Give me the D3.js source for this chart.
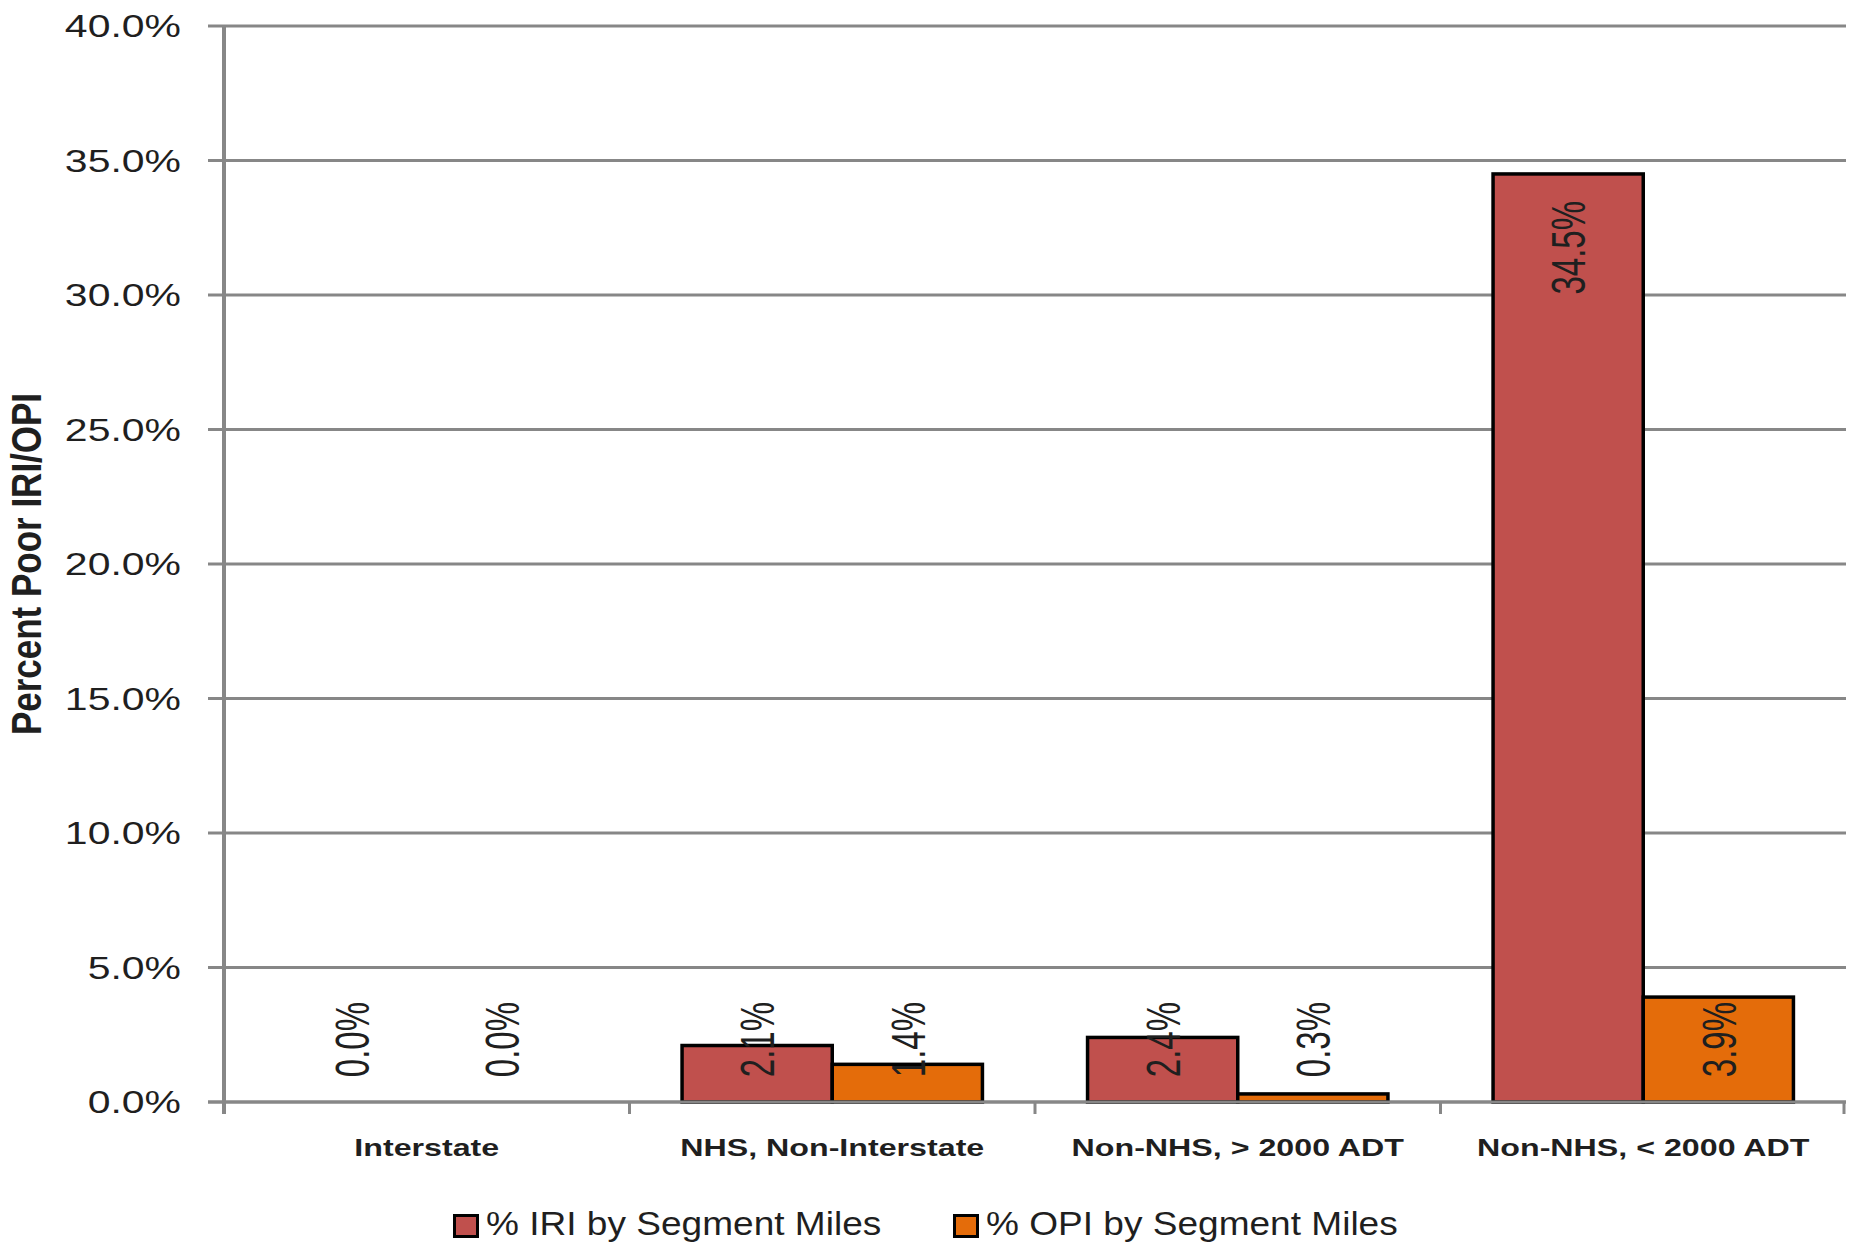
<!DOCTYPE html>
<html>
<head>
<meta charset="utf-8">
<script src="https://cdn.jsdelivr.net/npm/d3@7"></script>
<style>
  html, body { margin: 0; padding: 0; background: #fff; }
  svg { display: block; }
  text { font-family: "Liberation Sans", Arial, sans-serif; fill: #1f1f1f; }
</style>
</head>
<body>
<svg id="chart" width="1853" height="1247"></svg>
<script>
// Road categories and the share of poor-condition segment miles in each
const categories = ["Interstate", "NHS, Non-Interstate", "Non-NHS, > 2000 ADT", "Non-NHS, < 2000 ADT"];
const seriesNames = ["% IRI by Segment Miles", "% OPI by Segment Miles"];
const iriPoor = [0.0, 2.1, 2.4, 34.5];
const opiPoor = [0.0, 1.4, 0.3, 3.9];
const yTicks = [0, 5, 10, 15, 20, 25, 30, 35, 40];
const yTitle = "Percent Poor IRI/OPI";

const colors = ["#C0504D", "#E46C0A"];
const gridColor = "#878787";

const W = 1853, H = 1247;
const margin = { top: 26, right: 7, bottom: 145, left: 224 };

const svg = d3.select("#chart");

const x0 = d3.scaleBand()
  .domain(categories)
  .range([margin.left, W - margin.right])
  .paddingInner(0).paddingOuter(0);

const x1 = d3.scaleBand()
  .domain([0, 1])
  .range([0, x0.bandwidth()])
  .paddingInner(0).paddingOuter(0.35);

const y = d3.scaleLinear()
  .domain([0, 40])
  .range([H - margin.bottom, margin.top]);

const fmt = v => v.toFixed(1) + "%";
const y0 = y(0);

// Horizontal gridlines with outward ticks on the value axis
const grid = svg.append("g");
grid.selectAll("line")
  .data(yTicks)
  .join("line")
  .attr("x1", margin.left - 16)
  .attr("x2", W - margin.right)
  .attr("y1", d => y(d))
  .attr("y2", d => y(d))
  .attr("stroke", gridColor)
  .attr("stroke-width", 3);

// Value axis labels
svg.append("g").selectAll("text")
  .data(yTicks)
  .join("text")
  .attr("transform", d => `translate(181,${y(d) + 11}) scale(1.28,1)`)
  .attr("text-anchor", "end")
  .style("font-size", "32px")
  .text(d => fmt(d));

// Vertical axis line
svg.append("line")
  .attr("x1", margin.left).attr("x2", margin.left)
  .attr("y1", margin.top).attr("y2", y0 + 12)
  .attr("stroke", gridColor).attr("stroke-width", 4);

// Category separator ticks under the baseline
const edges = categories.map(c => x0(c)).concat([x0(categories[categories.length - 1]) + x0.bandwidth()]);
svg.append("g").selectAll("line")
  .data(edges.slice(1))
  .join("line")
  .attr("x1", d => Math.min(d, W - margin.right - 2))
  .attr("x2", d => Math.min(d, W - margin.right - 2))
  .attr("y1", y0).attr("y2", y0 + 12)
  .attr("stroke", gridColor).attr("stroke-width", 3);

// Bars
const rows = categories.map((c, i) => ({ cat: c, vals: [iriPoor[i], opiPoor[i]] }));
const groups = svg.append("g").selectAll("g")
  .data(rows)
  .join("g")
  .attr("transform", d => `translate(${x0(d.cat)},0)`);

groups.selectAll("rect")
  .data(d => d.vals.map((v, s) => ({ v, s })))
  .join("rect")
  .filter(d => d.v > 0)
  .attr("x", d => x1(d.s))
  .attr("width", x1.bandwidth())
  .attr("y", d => y(d.v))
  .attr("height", d => y0 - y(d.v))
  .attr("fill", d => colors[d.s])
  .attr("stroke", "#000")
  .attr("stroke-width", 3.5);

// Baseline drawn over the bar bottoms
svg.append("line")
  .attr("x1", margin.left - 16).attr("x2", W - margin.right)
  .attr("y1", y0).attr("y2", y0)
  .attr("stroke", gridColor).attr("stroke-width", 3);

// Rotated value labels
const labelSize = 33;
const labelStretch = 1.45;
groups.selectAll("text.val")
  .data(d => d.vals.map((v, s) => ({ v, s })))
  .join("text")
  .attr("class", "val")
  .attr("text-anchor", "end")
  .style("font-size", labelSize + "px")
  .attr("transform", d => {
    const cx = x1(d.s) + x1.bandwidth() / 2 + 0.36 * labelSize * labelStretch;
    const top = Math.min(y(d.v) + 27, y0 - 100);
    return `translate(${cx},${top}) scale(${labelStretch},1) rotate(-90)`;
  })
  .text(d => fmt(d.v));

// Category labels
svg.append("g").selectAll("text")
  .data(categories)
  .join("text")
  .attr("transform", d => `translate(${x0(d) + x0.bandwidth() / 2},1156) scale(1.4,1)`)
  .attr("text-anchor", "middle")
  .style("font-size", "23px")
  .style("font-weight", "bold")
  .text(d => d);

// Value axis title
svg.append("text")
  .attr("transform", `translate(41,${(margin.top + y0) / 2}) scale(1.2,1) rotate(-90)`)
  .attr("text-anchor", "middle")
  .style("font-size", "35px")
  .style("font-weight", "bold")
  .text(yTitle);

// Legend
const legendX = [453, 953];
const legend = svg.append("g").selectAll("g")
  .data(seriesNames)
  .join("g")
  .attr("transform", (d, i) => `translate(${legendX[i]},1214)`);
legend.append("rect")
  .attr("x", 1.5).attr("y", 1.5)
  .attr("width", 23).attr("height", 21)
  .attr("fill", (d, i) => colors[i])
  .attr("stroke", "#000").attr("stroke-width", 3);
legend.append("text")
  .attr("transform", "translate(33,21) scale(1.09,1)")
  .style("font-size", "34px")
  .text(d => d);
</script>
</body>
</html>
